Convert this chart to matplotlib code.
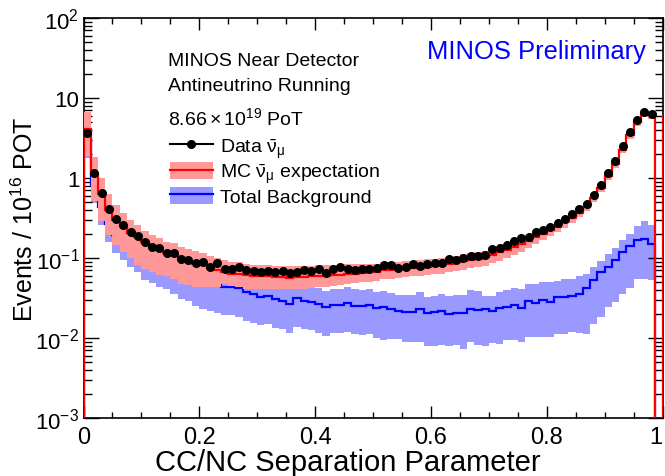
import matplotlib
matplotlib.use('Agg')
import matplotlib.pyplot as plt
import numpy as np
from matplotlib.lines import Line2D
from matplotlib.patches import Patch
from matplotlib.ticker import LogLocator, MultipleLocator, NullFormatter

plt.rcParams['font.family'] = ['Liberation Sans', 'DejaVu Sans']
plt.rcParams['mathtext.fontset'] = 'custom'
plt.rcParams['mathtext.rm'] = 'Liberation Sans'
plt.rcParams['mathtext.it'] = 'Liberation Sans:italic'
plt.rcParams['mathtext.bf'] = 'Liberation Sans:bold'

# binning: 80 bins on [0, 1], last bin empty
n_bins = 80

# data points (events / 1e16 POT), bins 0..78
data = [3.62, 1.15, 0.644, 0.406, 0.31, 0.258, 0.211, 0.188, 0.160, 0.136,
        0.132, 0.1145, 0.1145, 0.098, 0.094, 0.087, 0.088, 0.078, 0.0859, 0.0729,
        0.0729, 0.078, 0.0708, 0.0694, 0.0662, 0.0694, 0.0662, 0.0694, 0.065, 0.0662,
        0.0708, 0.0694, 0.0729, 0.065, 0.0729, 0.0764, 0.0729, 0.0714, 0.0736, 0.0729,
        0.0743, 0.0818, 0.0818, 0.075, 0.078, 0.0841, 0.0802, 0.0841, 0.0859, 0.0859,
        0.0972, 0.0953, 0.100, 0.107, 0.107, 0.110, 0.1296, 0.133, 0.146, 0.161,
        0.176, 0.181, 0.213, 0.224, 0.246, 0.271, 0.307, 0.355, 0.410, 0.473,
        0.619, 0.826, 1.155, 1.61, 2.49, 3.79, 5.35, 6.74, 6.31]

# MC antineutrino expectation
mc = [4.15, 1.13, 0.63, 0.40, 0.30, 0.25, 0.207, 0.182, 0.157, 0.137,
      0.126, 0.114, 0.108, 0.097, 0.091, 0.085, 0.081, 0.075, 0.071, 0.067,
      0.064, 0.063, 0.061, 0.060, 0.059, 0.059, 0.058, 0.058, 0.057, 0.058,
      0.058, 0.059, 0.060, 0.060, 0.061, 0.062, 0.063, 0.064, 0.065, 0.066,
      0.067, 0.070, 0.071, 0.072, 0.073, 0.075, 0.076, 0.078, 0.080, 0.082,
      0.085, 0.088, 0.091, 0.095, 0.098, 0.103, 0.110, 0.118, 0.127, 0.137,
      0.150, 0.163, 0.182, 0.200, 0.222, 0.247, 0.278, 0.318, 0.370, 0.435,
      0.560, 0.750, 1.05, 1.48, 2.25, 3.45, 4.95, 6.40, 6.10, 0.0]

# fractional systematic band on the MC (up / down)
mc_err_up = [0.60, 0.62, 0.60, 0.57, 0.52, 0.48, 0.45, 0.42, 0.40, 0.40,
             0.40, 0.40, 0.42, 0.42, 0.42, 0.42, 0.42, 0.42, 0.42, 0.42,
             0.40, 0.40, 0.38, 0.38, 0.38, 0.38, 0.38, 0.38, 0.38, 0.38,
             0.36, 0.36, 0.35, 0.35, 0.34, 0.33, 0.32, 0.30, 0.28, 0.27,
             0.26, 0.26, 0.25, 0.25, 0.25, 0.24, 0.24, 0.24, 0.23, 0.23,
             0.22, 0.22, 0.22, 0.21, 0.21, 0.20, 0.20, 0.19, 0.18, 0.18,
             0.17, 0.17, 0.16, 0.16, 0.15, 0.15, 0.14, 0.14, 0.13, 0.13,
             0.12, 0.12, 0.12, 0.11, 0.11, 0.10, 0.10, 0.10, 0.10, 0.0]
mc_err_dn = [0.55, 0.54, 0.54, 0.52, 0.52, 0.53, 0.51, 0.55, 0.54, 0.51,
             0.52, 0.47, 0.49, 0.51, 0.50, 0.49, 0.47, 0.42, 0.38, 0.30,
             0.30, 0.32, 0.32, 0.31, 0.31, 0.31, 0.30, 0.30, 0.29, 0.29,
             0.29, 0.28, 0.28, 0.27, 0.27, 0.26, 0.25, 0.24, 0.23, 0.23,
             0.23, 0.22, 0.22, 0.22, 0.21, 0.21, 0.21, 0.21, 0.22, 0.22,
             0.22, 0.22, 0.22, 0.22, 0.22, 0.22, 0.22, 0.22, 0.22, 0.21,
             0.20, 0.19, 0.18, 0.17, 0.16, 0.15, 0.14, 0.13, 0.12, 0.12,
             0.11, 0.11, 0.11, 0.10, 0.10, 0.10, 0.10, 0.10, 0.10, 0.0]

# total background
bkg = [2.97, 0.817, 0.433, 0.267, 0.195, 0.157, 0.127, 0.110, 0.088, 0.082,
       0.085, 0.078, 0.072, 0.066, 0.062, 0.056, 0.052, 0.049, 0.047, 0.044,
       0.044, 0.0418, 0.0373, 0.0355, 0.0328, 0.0338, 0.0307, 0.0292, 0.0266, 0.0316,
       0.0292, 0.0284, 0.0266, 0.0242, 0.0259, 0.0259, 0.0272, 0.0253, 0.0253, 0.0261,
       0.0235, 0.0246, 0.0230, 0.0219, 0.0213, 0.0209, 0.0230, 0.0205, 0.0209, 0.0215,
       0.0200, 0.0205, 0.0205, 0.0230, 0.0224, 0.0230, 0.0219, 0.0240, 0.0246, 0.0259,
       0.0237, 0.0288, 0.0272, 0.0301, 0.0279, 0.0323, 0.0328, 0.0338, 0.0355, 0.0418,
       0.0531, 0.0663, 0.0779, 0.0944, 0.118, 0.1426, 0.169, 0.172, 0.150, 0.0]
bkg_err_up = [0.50, 0.50, 0.50, 0.50, 0.50, 0.50, 0.50, 0.50, 0.50, 0.50,
              0.50, 0.50, 0.50, 0.50, 0.50, 0.50, 0.50, 0.50, 0.50, 0.60,
              0.60, 0.60, 0.60, 0.60, 0.60, 0.60, 0.60, 0.60, 0.60, 0.60,
              0.60, 0.60, 0.60, 0.60, 0.60, 0.60, 0.60, 0.60, 0.56, 0.57,
              0.59, 0.58, 0.58, 0.57, 0.60, 0.65, 0.64, 0.61, 0.61, 0.65,
              0.67, 0.67, 0.68, 0.72, 0.71, 0.47, 0.54, 0.55, 0.62, 0.65,
              0.72, 0.65, 0.75, 0.67, 0.80, 0.59, 0.67, 0.62, 0.66, 0.50,
              0.44, 0.40, 0.43, 0.43, 0.41, 0.40, 0.50, 0.70, 0.70, 0.0]
bkg_err_dn = [0.40, 0.40, 0.40, 0.40, 0.40, 0.40, 0.40, 0.40, 0.40, 0.40,
              0.49, 0.47, 0.51, 0.535, 0.53, 0.55, 0.56, 0.56, 0.56, 0.56,
              0.56, 0.56, 0.56, 0.56, 0.56, 0.56, 0.56, 0.56, 0.56, 0.56,
              0.56, 0.56, 0.56, 0.56, 0.56, 0.56, 0.56, 0.56, 0.57, 0.57,
              0.57, 0.62, 0.58, 0.56, 0.58, 0.57, 0.61, 0.61, 0.62, 0.62,
              0.60, 0.60, 0.64, 0.61, 0.64, 0.65, 0.61, 0.65, 0.62, 0.64,
              0.62, 0.64, 0.62, 0.66, 0.63, 0.65, 0.66, 0.65, 0.67, 0.73,
              0.72, 0.72, 0.69, 0.70, 0.70, 0.70, 0.68, 0.68, 0.65, 0.0]

xtick_vals = [0, 0.2, 0.4, 0.6, 0.8, 1.0]
xtick_labels = ['0', '0.2', '0.4', '0.6', '0.8', '1']
ytick_vals = [1e-3, 1e-2, 1e-1, 1, 10, 100]
ytick_labels = ['10$^{-3}$', '10$^{-2}$', '10$^{-1}$', '1', '10', '10$^{2}$']

edges = np.linspace(0, 1, n_bins + 1)
centers = 0.5 * (edges[:-1] + edges[1:])
mc = np.array(mc)
bkg = np.array(bkg)
floor = 1e-5  # empty bins drawn off the bottom of the log axis

fig = plt.figure(figsize=(6.65, 4.77), dpi=100)
ax = fig.add_axes([83.5 / 665, 58 / 477, 579 / 665, 400 / 477])

nf = len(data)  # filled bins
e_f = edges[:nf + 1]

# background band + line
bk_hi = bkg[:nf] * (1 + np.array(bkg_err_up[:nf]))
bk_lo = bkg[:nf] * (1 - np.array(bkg_err_dn[:nf]))
ax.stairs(bk_hi, e_f, baseline=bk_lo, fill=True, color='#9999ff', lw=0, zorder=1)
ax.stairs(np.maximum(bkg, floor), edges, baseline=floor, color='#0000ff', lw=1.6, zorder=2)

# MC band + line
mc_hi = mc[:nf] * (1 + np.array(mc_err_up[:nf]))
mc_lo = mc[:nf] * (1 - np.array(mc_err_dn[:nf]))
ax.stairs(mc_hi, e_f, baseline=mc_lo, fill=True, color='#ff9999', lw=0, zorder=3)
ax.stairs(np.maximum(mc, floor), edges, baseline=floor, color='#ff0000', lw=1.6, zorder=4)
ax.vlines(edges[-1], floor, mc[nf - 1], color='#ff0000', lw=1.6, zorder=4)

# data
ax.plot(centers[:nf], data, 'o', color='black', ms=5.5, zorder=5)

ax.set_yscale('log')
ax.set_xlim(0, 1)
ax.set_ylim(1e-3, 1e2)
ax.set_xticks(xtick_vals)
ax.set_xticklabels(xtick_labels)
ax.get_xticklabels()[-1].set_horizontalalignment('right')
ax.xaxis.set_minor_locator(MultipleLocator(0.05))
ax.set_yticks(ytick_vals)
ax.set_yticklabels(ytick_labels)
ax.yaxis.set_minor_locator(LogLocator(base=10, subs=np.arange(2, 10)))
ax.yaxis.set_minor_formatter(NullFormatter())
ax.tick_params(which='both', direction='in', top=True, right=True, width=1.0)
ax.tick_params(axis='x', which='major', length=8.5, pad=6, labelsize=17)
ax.tick_params(axis='x', which='minor', length=4.5)
ax.tick_params(axis='y', which='major', length=11, pad=3, labelsize=16)
ax.tick_params(axis='y', which='minor', length=5.5)
for s in ax.spines.values():
    s.set_linewidth(1.2)

ax.set_xlabel('CC/NC Separation Parameter', fontsize=21)
ax.xaxis.set_label_coords(0.457, -0.075)
ax.set_ylabel('Events / 10$^{16}$ POT', fontsize=18)
ax.yaxis.set_label_coords(-0.078, 0.5)

fig.text(427 / 665, 1 - 52 / 477, 'MINOS Preliminary', color='#0000ff',
         fontsize=18.4, va='center', ha='left')
fig.text(168 / 665, 1 - 62 / 477, 'MINOS Near Detector', fontsize=14, va='center')
fig.text(168 / 665, 1 - 87 / 477, 'Antineutrino Running', fontsize=14, va='center')
fig.text(168 / 665, 1 - 118 / 477, r'$8.66\times10^{19}$ PoT', fontsize=14, va='center')

handles = [
    Line2D([], [], color='black', marker='o', ms=5.5, lw=1.5),
    (Patch(facecolor='#ff9999', edgecolor='none'), Line2D([], [], color='#ff0000', lw=1.6)),
    (Patch(facecolor='#9999ff', edgecolor='none'), Line2D([], [], color='#0000ff', lw=1.6)),
]
labels = [r'Data $\mathrm{\bar{\nu}_{\mu}}$',
          r'MC $\mathrm{\bar{\nu}_{\mu}}$ expectation',
          'Total Background']
ax.legend(handles, labels, loc='upper left', bbox_to_anchor=(170 / 665, 1 - 137 / 477),
          bbox_transform=fig.transFigure, frameon=False, fontsize=14,
          handlelength=2.2, handleheight=0.95, handletextpad=0.35,
          labelspacing=0.08, borderpad=0, borderaxespad=0)

fig.savefig('out.png', dpi=100)
